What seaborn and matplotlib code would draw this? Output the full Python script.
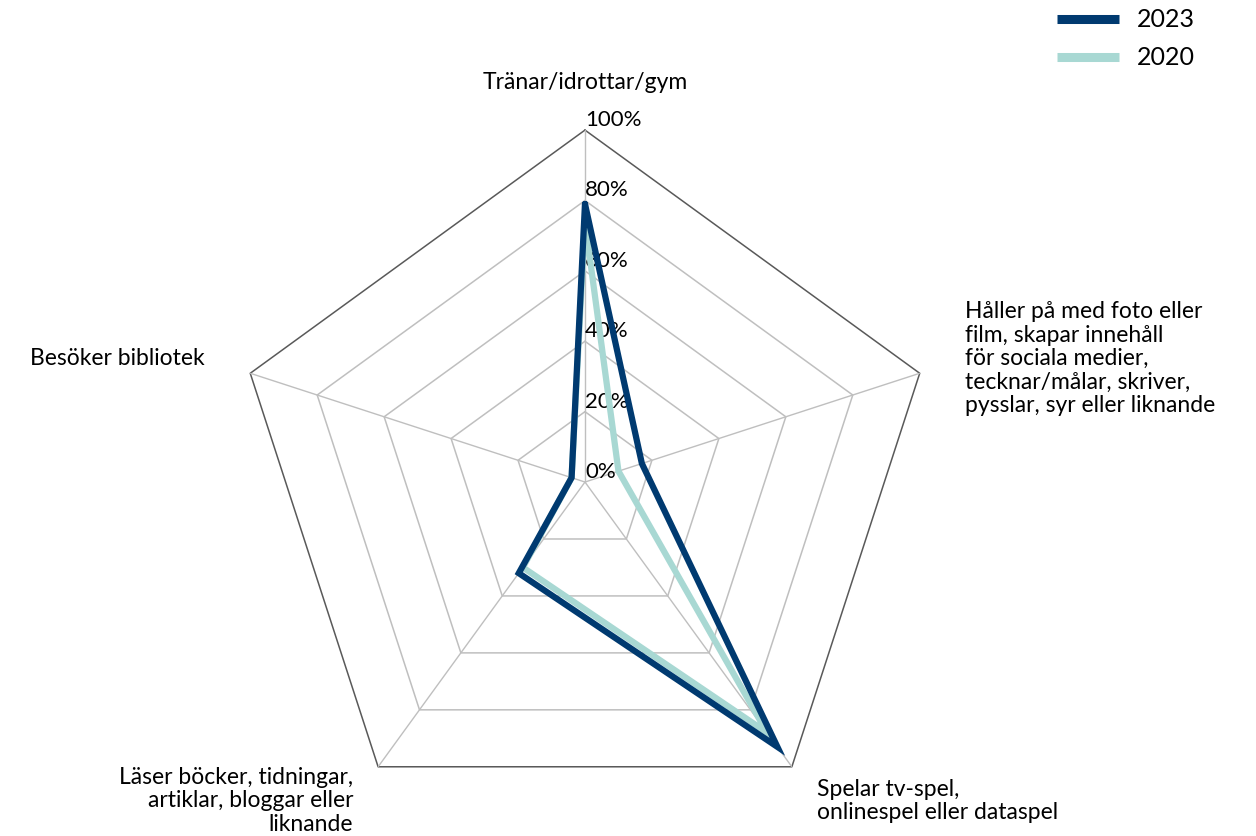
import numpy as np
import pandas as pd
import matplotlib
matplotlib.use('Agg')
import matplotlib.pyplot as plt
from matplotlib.lines import Line2D
import seaborn as sns

categories = [
  'Tränar/idrottar/gym',
  'Håller på med foto eller\nfilm, skapar innehåll\nför sociala medier,\ntecknar/målar, skriver,\npysslar, syr eller liknande',
  'Spelar tv-spel,\nonlinespel eller dataspel',
  'Läser böcker, tidningar,\nartiklar, bloggar eller\nliknande',
  'Besöker bibliotek',
]
values_2023 = [0.79, 0.17, 0.93, 0.32, 0.04]
values_2020 = [0.74, 0.10, 0.88, 0.30, 0.04]
years = ['2020', '2023']
colors = {'2023': '#003A70', '2020': '#A8D8D3'}
ring_levels = [0.0, 0.2, 0.4, 0.6, 0.8, 1.0]
ring_labels = ['0%', '20%', '40%', '60%', '80%', '100%']

sns.set_style('white')
plt.rcParams['font.family'] = ['Lato', 'DejaVu Sans']
plt.rcParams['text.color'] = 'black'

n = len(categories)
angles = np.linspace(0, 2 * np.pi, n, endpoint=False)
closed = np.append(angles, 2 * np.pi)

rows = []
for year, vals in zip(['2020', '2023'], [values_2020, values_2023]):
  for t, v in zip(closed, vals + vals[:1]):
    rows.append({'theta': t, 'value': v, 'year': year})
df = pd.DataFrame(rows)

fig = plt.figure(figsize=(12.56, 8.36), dpi=100)
ax = fig.add_axes([0.1855, 0.0024, 0.5605, 0.842], projection='polar')
ax.set_theta_offset(np.pi / 2)
ax.set_theta_direction(-1)
ax.set_ylim(0, 1)
ax.grid(False)
ax.spines['polar'].set_visible(False)
ax.set_xticks([])
ax.set_yticks([])
ax.patch.set_alpha(0)

# pentagon grid
for lvl in ring_levels[1:]:
  col = '#595959' if lvl == 1.0 else '#BFBFBF'
  ax.plot(closed, [lvl] * len(closed), color=col, lw=1.1, zorder=1, clip_on=False)
for t in angles:
  ax.plot([t, t], [0, 1], color='#BFBFBF', lw=1.0, zorder=1)

# radial tick labels
for lvl, lab in zip(ring_levels, ring_labels):
  ax.text(0, lvl, lab, ha='left', va='bottom', fontsize=16, zorder=2)

# data
sns.lineplot(data=df, x='theta', y='value', hue='year', hue_order=years,
             palette=colors, sort=False, estimator=None, lw=4.5,
             legend=False, ax=ax, zorder=3)
for line in ax.lines[-2:]:
  line.set_solid_joinstyle('miter')
  line.set_clip_on(False)
ax.set_xlabel('')
ax.set_ylabel('')

# category labels
for t, lab in zip(angles, categories):
  deg = np.degrees(t)
  if deg == 0:
    ha = 'center'
  elif deg < 180:
    ha = 'left'
  else:
    ha = 'right'
  r = 1.12 if 100 < deg < 260 else 1.135
  ax.text(t, r, lab, ha=ha, va='center', fontsize=16.5, linespacing=1.14,
          multialignment=ha)

handles = [Line2D([0], [0], color=colors['2023'], lw=6.5, solid_capstyle='butt'),
           Line2D([0], [0], color=colors['2020'], lw=6.5, solid_capstyle='butt')]
fig.legend(handles, ['2023', '2020'], loc='upper right',
           bbox_to_anchor=(0.969, 1.017), frameon=False, fontsize=18,
           handlelength=2.5, handletextpad=0.7, labelspacing=0.6)

plt.savefig('out.png', dpi=100)
